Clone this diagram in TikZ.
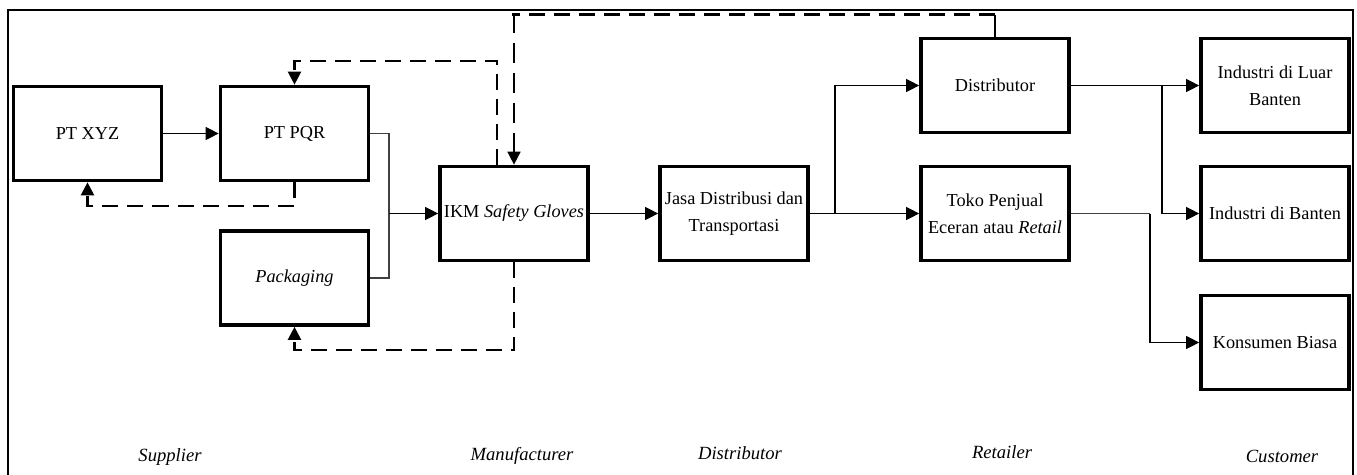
\documentclass[tikz,border=0pt]{standalone}
\usepackage{fontspec}
\setmainfont{Liberation Serif}
\usepackage{tikz}
\usetikzlibrary{arrows.meta,positioning,calc}

\begin{document}
\begin{tikzpicture}[
  x=0.2mm, y=-0.2mm,
  font=\fontsize{10.4}{15.5}\selectfont,
  every node/.style={align=center},
  party/.style={draw=black,line width=2.1pt,minimum width=29.6mm,
                minimum height=18.8mm,inner sep=2pt},
  flow/.style={-{Triangle[length=2.6mm,width=2.6mm]},line width=0.6pt},
  link/.style={line width=0.6pt,black!75},
  back/.style={-{Triangle[length=2.6mm,width=2.6mm]},line width=1.3pt,
               dash pattern=on 3.2mm off 1.8mm},
  tier/.style={font=\fontsize{10.6}{12}\selectfont\itshape}
]
\useasboundingbox (0,0) rectangle (1357,474);
\draw[line width=0.9pt] (8,490) |- (1353,10) -- (1353,490);

% supplier, manufacturer, distributor
\node[party] (xyz)  at (87.5,133.5) {PT XYZ};
\node[party] (pqr)  at (294.5,133.5) {PT PQR};
\node[party] (pack) at (294.5,278)   {\textit{Packaging}};
\node[party] (ikm)  at (514,213.5)   {IKM \textit{Safety Gloves}};
\node[party] (jasa) at (734,213.5)   {Jasa Distribusi dan\\Transportasi};
% retailer, customer
\node[party] (dist) at (995,85.5)    {Distributor};
\node[party] (toko) at (995,213.5)   {Toko Penjual\\Eceran atau \textit{Retail}};
\node[party] (luar) at (1275,85.5)   {Industri di Luar\\Banten};
\node[party] (bant) at (1275,213.5)  {Industri di Banten};
\node[party] (kons) at (1275,342.5)  {Konsumen Biasa};

\coordinate (jIn)   at (389,213.5);
\coordinate (jOut)  at (835,213.5);
\coordinate (jDist) at (1162,85.5);
\coordinate (jRet)  at (1150,213.5);
\coordinate (jTop)  at (514,13);

% material flow
\draw[flow] (xyz) -- (pqr);
\draw[link] (pqr.east) -| (jIn);
\draw[link] (pack.east) -| (jIn);
\draw[flow] (jIn) -- (ikm.west);
\draw[flow] (ikm) -- (jasa);
\draw[flow] (jasa) -- (toko);
\draw[flow] (jOut) |- (dist.west);
\draw[flow] (dist) -- (luar);
\draw[flow] (jDist) |- (bant.west);
\draw[link] (toko.east) -- (jRet);
\draw[flow] (jRet) |- (kons.west);

% information flow back upstream
\draw[back] (pqr.south) -- ++(0,24) -| (xyz.south);
\draw[back] ([xshift=-3.4mm]ikm.north) -- ++(0,-104) -| (pqr.north);
\draw[back] (ikm.south) -- ++(0,88) -| (pack.south);
\draw[link,black] (dist.north) -- ++(0,-22);
\draw[back,-,line width=2pt] ([yshift=4.4mm]dist.north) -| (jTop);
\draw[back,line width=0.9pt,dash pattern=on 4mm off 2mm] (jTop) -- (ikm.north);

% tiers
\node[tier] (tSup) at (170,457)  {Supplier};
\node[tier] (tMan) at (522,456)  {Manufacturer};
\node[tier] (tDis) at (740,453)  {Distributor};
\node[tier] (tRet) at (1002,452) {Retailer};
\node[tier] (tCus) at (1282,456) {Customer};
\end{tikzpicture}
\end{document}
